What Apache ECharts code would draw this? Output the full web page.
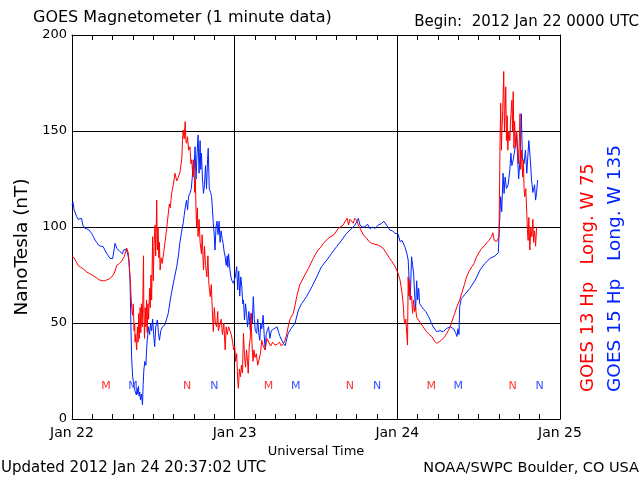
<!DOCTYPE html>
<html><head><meta charset="utf-8">
<script src="https://cdn.jsdelivr.net/npm/echarts@6/dist/echarts.min.js"></script>
<style>html,body{margin:0;padding:0;background:#fff}#c{width:640px;height:480px}</style>
</head><body><div id="c"></div>
<script>
// Tick labels
const xTickLabels = ['Jan 22', 'Jan 23', 'Jan 24', 'Jan 25'];
const yTicks = [0, 50, 100, 150, 200];

// GOES 13 Hp (red): [hours since 2012 Jan 22 00:00 UT, nT]
const goes13 = [
[0.0,85],[0.3,84],[0.6,82],[0.9,80],[1.3,79],[1.7,78],[2.2,76.5],[2.7,75.5],[3.2,74.5],[3.6,73.6],[4.0,72.5],[4.4,72],[4.8,72],[5.1,72.4],[5.5,73],[5.85,74],[6.25,76],[6.6,80],[7.0,81],[7.3,82],[7.7,84.5],[8.07,89],[8.3,86.5],[8.46,79],[8.6,72],[8.7,65],[8.8,58],[8.95,54],[9.05,60],[9.15,46],[9.25,50],[9.3,40],[9.4,44],[9.54,36],[9.65,48],[9.75,40],[9.85,55],[9.95,42],[10.05,58],[10.15,45],[10.25,60],[10.35,48],[10.45,62],[10.55,85],[10.6,55],[10.7,42],[10.8,58],[10.9,48],[11.0,62],[11.1,45],[11.2,60],[11.3,52],[11.45,68],[11.55,58],[11.65,75],[11.75,62],[11.9,95],[12.0,72],[12.1,90],[12.25,101],[12.35,85],[12.5,114],[12.6,88],[12.7,100],[12.8,84],[12.9,92],[13.0,77.6],[13.15,84],[13.3,81],[13.5,86],[13.7,91.5],[13.9,97],[14.1,103.6],[14.36,112],[14.5,110],[14.7,117.5],[14.95,122],[15.2,128],[15.45,124],[15.7,126],[15.95,128.8],[16.2,135.8],[16.3,145],[16.4,150.5],[16.55,146],[16.7,154.9],[16.8,145],[16.9,143.6],[17.05,147],[17.2,140],[17.4,141.8],[17.55,133],[17.66,135],[17.8,128],[17.9,126],[18.0,135],[18.1,118],[18.2,125],[18.3,108],[18.4,100],[18.5,110],[18.6,95],[18.75,104],[18.9,92],[19.1,86],[19.2,96],[19.4,77.6],[19.55,90],[19.7,80],[19.9,74],[20.05,85],[20.2,70],[20.4,63.7],[20.55,70],[20.7,56.8],[20.85,45.5],[21.0,58],[21.15,50],[21.35,48],[21.5,56],[21.6,46],[21.8,46.4],[22.0,52],[22.2,44],[22.4,50],[22.6,36],[22.75,48],[22.9,44],[23.1,48],[23.3,48],[23.5,44],[23.7,40],[23.85,36],[24.0,38],[24.15,30],[24.3,34],[24.45,20],[24.55,16],[24.7,26],[24.85,22],[25.0,28],[25.15,24],[25.3,44.6],[25.45,33],[25.6,27],[25.75,36],[25.9,30],[26.0,23.8],[26.15,38],[26.3,42],[26.4,55],[26.55,40],[26.7,30],[26.85,36],[27.0,32],[27.2,34],[27.4,28],[27.6,27.2],[27.8,34],[28.0,41],[28.2,38],[28.5,36],[28.75,42],[29.0,41],[29.3,38],[29.6,40],[29.95,38.5],[30.3,39],[30.6,40],[30.9,38],[31.2,39.4],[31.45,41],[31.7,44.6],[31.95,49],[32.2,52.4],[32.65,55],[32.9,59],[33.15,63.7],[33.6,69.8],[34.1,73.3],[34.5,76],[34.9,78.5],[35.6,83.7],[36.3,88],[36.7,89.5],[37.1,91.5],[37.8,94.1],[38.2,95],[38.6,95.8],[39.3,99.3],[40.0,101],[40.3,103],[40.6,104.5],[40.8,101],[41.0,104],[41.2,103.6],[41.5,102],[41.7,104.5],[42.0,103.6],[42.25,101],[42.5,99.3],[43.0,95.8],[43.5,94],[43.8,92.5],[44.2,91.5],[44.7,91],[45.2,90.6],[45.9,88.9],[46.4,86.3],[46.8,84],[47.2,82],[47.65,79.5],[47.9,79.3],[48.1,76],[48.4,72.4],[48.7,65.5],[48.9,58.5],[49.0,51.6],[49.1,49.8],[49.25,52],[49.4,44],[49.5,38.5],[49.6,74],[49.7,64],[49.8,72],[49.95,62],[50.1,64],[50.25,55],[50.4,62],[50.55,56],[50.7,58],[50.85,53],[51.1,53.3],[51.4,50],[51.8,48],[52.3,45.5],[52.7,44],[53.1,42.9],[53.5,40.5],[53.8,39.4],[54.1,40],[54.5,41],[54.9,42.5],[55.3,44.6],[55.8,48],[56.3,53.3],[56.8,58.5],[57.2,62],[57.5,65.5],[57.9,70],[58.2,74],[58.6,77],[59.0,79.3],[59.3,81],[59.7,84.5],[60.1,87],[60.45,88.9],[60.8,90],[61.2,91.8],[61.5,93],[61.9,95],[62.1,97],[62.3,93],[62.5,94],[62.65,92.4],[62.85,93],[63.0,95],[63.15,143.6],[63.25,164.5],[63.35,140],[63.45,152],[63.55,160],[63.7,181],[63.8,150],[63.9,160],[64.0,173],[64.1,145],[64.2,158],[64.3,140],[64.45,150],[64.6,145],[64.7,155],[64.9,166],[65.0,150],[65.1,170.5],[65.2,141],[65.3,155],[65.45,141.8],[65.6,150],[65.75,140],[65.85,133],[66.0,145],[66.1,159],[66.2,130],[66.3,140],[66.5,126],[66.6,135],[66.7,120],[66.8,115.8],[66.95,120],[67.1,107],[67.2,98],[67.3,93],[67.4,105],[67.55,88],[67.7,100],[67.85,95],[68.0,104],[68.1,92],[68.25,98],[68.4,90],[68.55,100],[68.62,100]
];

// GOES 15 Hp (blue)
const goes15 = [
[0.0,111.5],[0.15,113],[0.3,109],[0.5,108],[0.69,105.4],[0.9,104],[1.18,103.6],[1.4,104.5],[1.6,101],[1.9,99.3],[2.2,99],[2.5,98.5],[2.9,96.7],[3.15,95],[3.4,93.2],[3.65,92],[3.9,90.6],[4.2,90],[4.6,89.8],[4.85,88],[5.1,86.3],[5.35,85],[5.6,83.7],[6.0,83.5],[6.25,83.7],[6.35,91.5],[6.6,89],[6.85,88],[7.1,87.1],[7.45,86],[7.6,88],[7.8,89],[8.0,88.5],[8.2,86],[8.4,83],[8.56,72.4],[8.7,48],[8.8,31.6],[8.95,22],[9.05,19.4],[9.2,16],[9.35,14],[9.5,12.5],[9.6,16],[9.7,13],[9.8,17],[9.9,12],[10.0,14],[10.1,10],[10.25,13],[10.4,7.3],[10.5,18],[10.6,25.5],[10.75,30],[10.9,28],[11.0,36],[11.1,41],[11.3,48],[11.45,44],[11.6,50],[11.75,46],[11.9,52],[12.05,44],[12.2,37.7],[12.35,48],[12.6,51.6],[12.75,45],[12.9,41],[13.1,46],[13.35,48],[13.7,49],[13.95,52],[14.2,55],[14.5,62],[14.7,66],[14.95,70.7],[15.2,75],[15.45,79.3],[15.7,85],[15.9,91.5],[16.15,97],[16.4,101.9],[16.55,106],[16.7,110],[16.9,114],[17.05,109],[17.2,116],[17.4,117.5],[17.6,120],[17.75,126],[17.9,135],[18.0,130],[18.15,141.8],[18.3,125],[18.45,138],[18.6,147.9],[18.75,128],[18.9,145],[19.0,130],[19.1,138.4],[19.25,125],[19.4,117.5],[19.55,122],[19.7,132],[19.85,120],[20.0,135],[20.1,141],[20.25,120],[20.45,118],[20.6,115.8],[20.85,101.9],[21.0,95],[21.1,88],[21.25,100],[21.4,103],[21.55,96],[21.7,103],[21.85,92],[22.0,98],[22.15,94],[22.3,91.5],[22.45,87],[22.6,84.5],[22.75,80],[22.9,85],[23.0,79],[23.1,86],[23.3,77.6],[23.45,74],[23.6,72],[23.8,70.7],[23.95,70],[24.1,74],[24.3,79.3],[24.45,67.2],[24.6,77],[24.75,64],[24.9,74],[25.05,69],[25.2,60],[25.3,62],[25.45,51.6],[25.6,60],[25.75,55],[25.9,48],[26.1,56],[26.3,46.4],[26.45,55],[26.6,50],[26.75,63.7],[26.9,52],[27.05,46],[27.25,44.6],[27.4,52],[27.55,45],[27.7,41],[27.85,50],[28.0,47],[28.2,54],[28.35,44],[28.5,36],[28.65,44],[28.8,46],[29.0,48],[29.2,42],[29.4,46],[29.6,45],[29.8,47],[30.0,47.2],[30.25,48],[30.5,45],[30.7,42.9],[30.95,41],[31.2,39.4],[31.45,38.2],[31.7,42],[31.9,44.6],[32.3,47],[32.9,49.8],[33.4,56.8],[33.9,60.2],[34.6,63.7],[35.4,68.9],[36.1,74],[36.8,79.3],[37.6,82.8],[38.3,86.3],[39.05,89.8],[39.8,93.2],[40.5,96.7],[41.3,99.3],[41.75,101],[42.0,102],[42.25,104.5],[42.5,101],[42.8,100],[43.2,100],[43.6,101.5],[44.0,99],[44.3,100],[44.7,99.3],[45.2,101],[45.7,101.9],[46.0,103],[46.4,101],[46.9,98.4],[47.3,98],[47.65,96.7],[48.1,96.5],[48.4,92.4],[48.7,93],[49.1,89.8],[49.4,86.3],[49.6,82.8],[49.75,72],[49.9,62],[50.1,84.5],[50.25,80],[50.4,76],[50.55,65],[50.7,57],[50.85,72],[51.0,62],[51.15,68],[51.3,60],[51.6,58.5],[51.9,57],[52.2,56],[52.6,53.3],[52.8,52],[53.0,50],[53.3,48],[53.8,45.5],[54.3,46],[54.8,45.5],[55.3,47.2],[55.8,48],[56.3,47],[56.6,45],[56.8,43],[56.95,47],[57.1,44],[57.2,58.5],[57.45,62.8],[57.9,64.6],[58.7,68],[59.5,72.4],[60.2,77.6],[60.9,81],[61.7,83.7],[62.4,84.9],[62.9,86.6],[63.05,100],[63.25,115.8],[63.4,108],[63.6,128],[63.75,117.5],[63.9,126],[64.1,120],[64.35,122],[64.6,129.7],[64.75,138.4],[64.9,132],[65.1,135],[65.4,141.8],[65.6,148.8],[65.75,136],[65.9,125],[66.1,135],[66.3,159],[66.45,136],[66.7,133],[66.9,140],[67.1,128],[67.4,145],[67.6,136],[67.8,124.5],[68.0,118],[68.1,117.5],[68.25,122],[68.4,114],[68.55,118],[68.7,124.5]
];

// Local midnight (M) / noon (N) markers
const mark13Hours = [5, 17, 29, 41, 53, 65];
const mark13Letters = ['M', 'N', 'M', 'N', 'M', 'N'];
const mark15Hours = [9, 21, 33, 45, 57, 69];
const mark15Letters = ['M', 'N', 'M', 'N', 'M', 'N'];
const markLevel = 17;

const RED = '#ff0000', BLUE = '#0022ff';
const FONT = 'DejaVu Sans';

function markData(hours, letters) {
  return hours.map((h, i) => ({ value: [h, markLevel], label: { formatter: letters[i] } }));
}

const chart = echarts.init(document.getElementById('c'), null, { renderer: 'canvas' });
function xAxisCfg(pos, showLabel, showSplit) {
  return {
    type: 'value', min: 0, max: 72, interval: 24, position: pos, gridIndex: 0,
    axisLine: { show: true, onZero: false, lineStyle: { color: '#000', width: 1 } },
    axisTick: { show: true, inside: true, length: 5, lineStyle: { color: '#000' } },
    minorTick: { show: true, splitNumber: 8, length: 5, lineStyle: { color: '#000' } },
    splitLine: { show: showSplit, lineStyle: { color: '#000', width: 1 } },
    axisLabel: { show: showLabel, margin: 7, color: '#000', fontSize: 14, fontFamily: FONT,
      formatter: v => xTickLabels[Math.round(v / 24)] }
  };
}
const xBottom = xAxisCfg('bottom', true, true);
xBottom.name = 'Universal Time';
xBottom.nameLocation = 'middle';
xBottom.nameGap = 24;
xBottom.nameTextStyle = { color: '#000', fontSize: 13, fontFamily: FONT };

chart.setOption({
  animation: false,
  backgroundColor: '#fff',
  textStyle: { fontFamily: FONT },
  grid: { left: 72, right: 80, top: 35, bottom: 61, containLabel: false },
  xAxis: [xBottom, xAxisCfg('top', false, false)],
  yAxis: [
    { type: 'value', min: yTicks[0], max: yTicks[yTicks.length - 1], interval: 50, position: 'left',
      axisLine: { show: true, onZero: false, lineStyle: { color: '#000' } }, axisTick: { show: false },
      splitLine: { show: true, lineStyle: { color: '#000', width: 1 } },
      axisLabel: { color: '#000', fontSize: 13, margin: 5, fontFamily: FONT } },
    { type: 'value', min: 0, max: 200, position: 'right',
      axisLine: { show: true, onZero: false, lineStyle: { color: '#000' } }, axisTick: { show: false },
      axisLabel: { show: false }, splitLine: { show: false } }
  ],
  series: [
    { name: 'GOES 15 Hp', type: 'line', data: goes15, showSymbol: false, symbol: 'none',
      lineStyle: { color: BLUE, width: 1 }, itemStyle: { color: BLUE }, z: 2 },
    { name: 'GOES 13 Hp', type: 'line', data: goes13, showSymbol: false, symbol: 'none',
      lineStyle: { color: RED, width: 1 }, itemStyle: { color: RED }, z: 3 },
    { type: 'scatter', data: markData(mark13Hours, mark13Letters), symbolSize: 0, z: 4,
      label: { show: true, position: 'inside', color: RED, fontSize: 11, fontFamily: FONT } },
    { type: 'scatter', data: markData(mark15Hours, mark15Letters), symbolSize: 0, z: 4,
      label: { show: true, position: 'inside', color: BLUE, fontSize: 11, fontFamily: FONT } }
  ],
  graphic: [
    { type: 'text', x: 33, y: 18, style: { text: 'GOES Magnetometer (1 minute data)', fill: '#000', font: '16px "DejaVu Sans"', textVerticalAlign: 'middle' } },
    { type: 'text', x: 639, y: 22, style: { text: 'Begin:  2012 Jan 22 0000 UTC', fill: '#000', font: '15px "DejaVu Sans"', textAlign: 'right', textVerticalAlign: 'middle' } },
    { type: 'text', x: 1, y: 468, style: { text: 'Updated 2012 Jan 24 20:37:02 UTC', fill: '#000', font: '15px "DejaVu Sans"', textVerticalAlign: 'middle' } },
    { type: 'text', x: 639, y: 468, style: { text: 'NOAA/SWPC Boulder, CO USA', fill: '#000', font: '14.5px "DejaVu Sans"', textAlign: 'right', textVerticalAlign: 'middle' } },
    { type: 'text', x: 22, y: 247, rotation: Math.PI / 2,
      style: { text: 'NanoTesla (nT)', fill: '#000', font: '18.5px "DejaVu Sans"', textAlign: 'center', textVerticalAlign: 'middle' } },
    { type: 'text', x: 588, y: 392, rotation: Math.PI / 2,
      style: { text: 'GOES 13 Hp   Long. W 75', fill: RED, font: '18px "DejaVu Sans"', textAlign: 'left', textVerticalAlign: 'middle' } },
    { type: 'text', x: 615, y: 392, rotation: Math.PI / 2,
      style: { text: 'GOES 15 Hp   Long. W 135', fill: BLUE, font: '18.5px "DejaVu Sans"', textAlign: 'left', textVerticalAlign: 'middle' } }
  ]
});
</script></body></html>
